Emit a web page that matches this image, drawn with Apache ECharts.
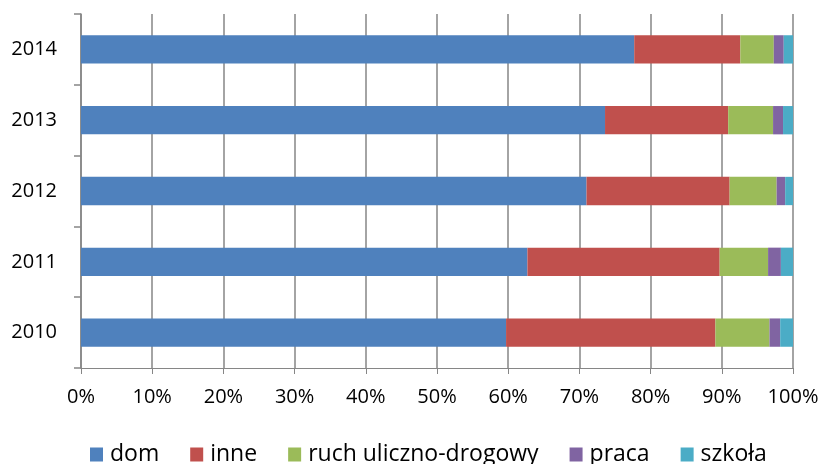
<!DOCTYPE html>
<html>
<head>
<meta charset="utf-8">
<script src="https://cdn.jsdelivr.net/npm/echarts@6/dist/echarts.min.js"></script>
<style>
html,body{margin:0;padding:0;background:#fff;}
#c{width:822px;height:464px;}
</style>
</head>
<body>
<div id="c"></div>
<script>
var years = ['2010', '2011', '2012', '2013', '2014'];
var seriesNames = ['dom', 'inne', 'ruch uliczno-drogowy', 'praca', 'szkoła'];
var dom = [59.7, 62.7, 71.0, 73.6, 77.7];
var inne = [29.4, 27.0, 20.1, 17.3, 14.9];
var ruch = [7.6, 6.8, 6.6, 6.3, 4.7];
var praca = [1.5, 1.8, 1.2, 1.4, 1.4];
var szkola = [1.8, 1.7, 1.1, 1.4, 1.3];
var xTicks = [0, 10, 20, 30, 40, 50, 60, 70, 80, 90, 100];
var colors = ['#4F81BD', '#C0504D', '#9BBB59', '#8064A2', '#4BACC6'];

var values = [dom, inne, ruch, praca, szkola];
var font = '"Open Sans", "Liberation Sans", sans-serif';
var chart = echarts.init(document.getElementById('c'), null, {renderer: 'canvas'});
chart.setOption({
  animation: false,
  color: colors,
  grid: {left: 81, right: 29, top: 14, bottom: 96, containLabel: false},
  legend: {
    top: 443,
    left: 90,
    padding: [0, 0, 0, 0],
    itemWidth: 13,
    itemHeight: 14,
    itemGap: 31,
    icon: 'rect',
    textStyle: {fontFamily: font, fontSize: 23, color: '#000', padding: [0, 0, 0, 2]},
    data: seriesNames
  },
  xAxis: {
    type: 'value',
    min: xTicks[0],
    max: xTicks[xTicks.length - 1],
    interval: 10,
    axisLine: {show: true, lineStyle: {color: '#868686', width: 1}},
    axisTick: {show: true, length: 6, lineStyle: {color: '#868686'}},
    splitLine: {show: true, lineStyle: {color: '#868686', width: 1.5}},
    axisLabel: {
      margin: 19,
      fontFamily: font, fontSize: 20, color: '#000',
      formatter: function (v) { return v + '%'; }
    }
  },
  yAxis: {
    type: 'category',
    data: years,
    axisLine: {show: true, lineStyle: {color: '#868686', width: 1.5}},
    axisTick: {show: true, length: 7, lineStyle: {color: '#868686', width: 1.5}},
    axisLabel: {margin: 24, fontFamily: font, fontSize: 20, color: '#000'}
  },
  series: seriesNames.map(function (n, i) {
    return {
      name: n,
      type: 'bar',
      stack: 'total',
      barCategoryGap: '60%',
      data: values[i]
    };
  })
});
</script>
</body>
</html>
